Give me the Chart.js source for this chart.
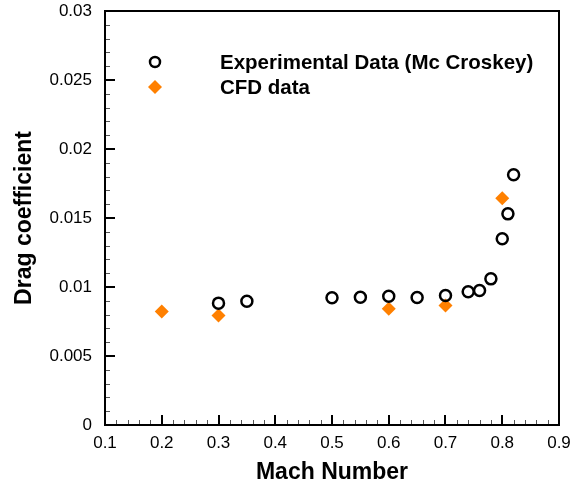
<!DOCTYPE html>
<html lang="en">
<head>
    <meta charset="UTF-8">
    <title>Drag coefficient vs Mach number</title>
    <style>
        body { margin: 0; padding: 0; background: #fff; overflow: hidden; }
        #dragChart { display: block; }
    </style>
    <script src="https://cdn.jsdelivr.net/npm/chart.js@4.4.1/dist/chart.umd.min.js"></script>
</head>
<body>
    <canvas id="dragChart" width="583" height="489"></canvas>

    <script>
        // Experimental data (Mc Croskey)
        const expMach = [0.3, 0.35, 0.5, 0.55, 0.6, 0.65, 0.7, 0.74, 0.76, 0.78, 0.8, 0.81, 0.82];
        const expCd   = [0.00883, 0.00897, 0.00922, 0.00926, 0.00933, 0.00924, 0.00938, 0.00965, 0.00975, 0.01059, 0.01349, 0.0153, 0.01813];

        // CFD results
        const cfdMach = [0.2, 0.3, 0.6, 0.7, 0.8];
        const cfdCd   = [0.00822, 0.00793, 0.00842, 0.00866, 0.01643];

        // axis ticks
        const xTicks = [0.1, 0.2, 0.3, 0.4, 0.5, 0.6, 0.7, 0.8, 0.9];
        const yTicks = [0, 0.005, 0.01, 0.015, 0.02, 0.025, 0.03];

        const FONT = '"Liberation Sans", Arial, Helvetica, sans-serif';
        const ORANGE = '#ff8000';

        const toPoints = (xs, ys) => xs.map((x, i) => ({ x: x, y: ys[i] }));
        const fmt = v => String(Number(v.toFixed(4)));

        // frame around the plot, inward major/minor ticks, and the legend
        const framePlugin = {
            id: 'frame',
            afterDraw(chart) {
                const ctx = chart.ctx;
                const a = chart.chartArea;
                const xs = chart.scales.x, ys = chart.scales.y;
                ctx.save();

                // minor ticks (4 between majors)
                ctx.strokeStyle = '#555';
                ctx.lineWidth = 1;
                ctx.beginPath();
                for (let i = 0; i < xTicks.length - 1; i++) {
                    const step = (xTicks[i + 1] - xTicks[i]) / 5;
                    for (let k = 1; k < 5; k++) {
                        const px = Math.round(xs.getPixelForValue(xTicks[i] + k * step)) + 0.5;
                        ctx.moveTo(px, a.bottom);
                        ctx.lineTo(px, a.bottom - 5);
                    }
                }
                for (let i = 0; i < yTicks.length - 1; i++) {
                    const step = (yTicks[i + 1] - yTicks[i]) / 5;
                    for (let k = 1; k < 5; k++) {
                        const py = Math.round(ys.getPixelForValue(yTicks[i] + k * step)) + 0.5;
                        ctx.moveTo(a.left, py);
                        ctx.lineTo(a.left + 5, py);
                    }
                }
                ctx.stroke();

                // major ticks
                ctx.strokeStyle = '#000';
                ctx.lineWidth = 2;
                ctx.beginPath();
                xTicks.forEach(v => {
                    const px = Math.round(xs.getPixelForValue(v));
                    ctx.moveTo(px, a.bottom);
                    ctx.lineTo(px, a.bottom - 10);
                });
                yTicks.forEach(v => {
                    const py = Math.round(ys.getPixelForValue(v));
                    ctx.moveTo(a.left, py);
                    ctx.lineTo(a.left + 10, py);
                });
                ctx.stroke();

                // frame
                ctx.lineWidth = 2;
                ctx.strokeRect(Math.round(a.left), Math.round(a.top),
                               Math.round(a.right - a.left), Math.round(a.bottom - a.top));

                // legend
                const ds = chart.data.datasets;
                const mx = a.left + 50, tx = a.left + 115;
                const rows = [a.top + 51, a.top + 76];
                ctx.font = 'bold 20.5px ' + FONT;
                ctx.textBaseline = 'middle';
                ctx.fillStyle = '#000';

                ctx.beginPath();
                ctx.arc(mx, rows[0], 5, 0, Math.PI * 2);
                ctx.lineWidth = 2.5;
                ctx.strokeStyle = '#000';
                ctx.stroke();
                ctx.fillText(ds[0].label, tx, rows[0] + 1);

                ctx.beginPath();
                ctx.moveTo(mx, rows[1] - 7);
                ctx.lineTo(mx + 7, rows[1]);
                ctx.lineTo(mx, rows[1] + 7);
                ctx.lineTo(mx - 7, rows[1]);
                ctx.closePath();
                ctx.fillStyle = ORANGE;
                ctx.fill();
                ctx.fillStyle = '#000';
                ctx.fillText(ds[1].label, tx, rows[1] + 1);

                ctx.restore();
            }
        };

        new Chart(document.getElementById('dragChart'), {
            type: 'scatter',
            data: {
                datasets: [
                    {
                        label: 'Experimental Data (Mc Croskey)',
                        data: toPoints(expMach, expCd),
                        pointStyle: 'circle',
                        pointRadius: 5.5,
                        pointBorderWidth: 2.5,
                        borderColor: '#000',
                        backgroundColor: 'rgba(0,0,0,0)',
                        clip: false
                    },
                    {
                        label: 'CFD data',
                        data: toPoints(cfdMach, cfdCd),
                        pointStyle: 'rectRot',
                        pointRadius: 7,
                        pointBorderWidth: 0,
                        borderColor: ORANGE,
                        backgroundColor: ORANGE,
                        clip: false
                    }
                ]
            },
            options: {
                responsive: false,
                animation: false,
                layout: { padding: { left: 0, top: 0, right: 24, bottom: 0 } },
                plugins: {
                    legend: { display: false },
                    tooltip: { enabled: false }
                },
                scales: {
                    x: {
                        type: 'linear',
                        min: 0.1,
                        max: 0.9,
                        afterBuildTicks: s => { s.ticks = xTicks.map(v => ({ value: v })); },
                        afterFit: s => { s.height = 64; },
                        grid: { display: false, drawTicks: false },
                        border: { display: false },
                        ticks: {
                            color: '#000',
                            padding: 8,
                            maxRotation: 0,
                            font: { family: FONT, size: 17 },
                            callback: v => fmt(v)
                        },
                        title: {
                            display: true,
                            text: 'Mach Number',
                            color: '#000',
                            padding: { top: 0, bottom: 3 },
                            font: { family: FONT, size: 23, weight: 'bold' }
                        }
                    },
                    y: {
                        type: 'linear',
                        min: 0,
                        max: 0.03,
                        afterBuildTicks: s => { s.ticks = yTicks.map(v => ({ value: v })); },
                        afterFit: s => { s.width = 105; s.paddingTop = 11; s.paddingBottom = 0; },
                        grid: { display: false, drawTicks: false },
                        border: { display: false },
                        ticks: {
                            color: '#000',
                            padding: 13,
                            font: { family: FONT, size: 17 },
                            callback: v => fmt(v)
                        },
                        title: {
                            display: true,
                            text: 'Drag coefficient',
                            color: '#000',
                            padding: { top: 11, bottom: 0 },
                            font: { family: FONT, size: 23, weight: 'bold' }
                        }
                    }
                }
            },
            plugins: [framePlugin]
        });
    </script>
</body>
</html>
